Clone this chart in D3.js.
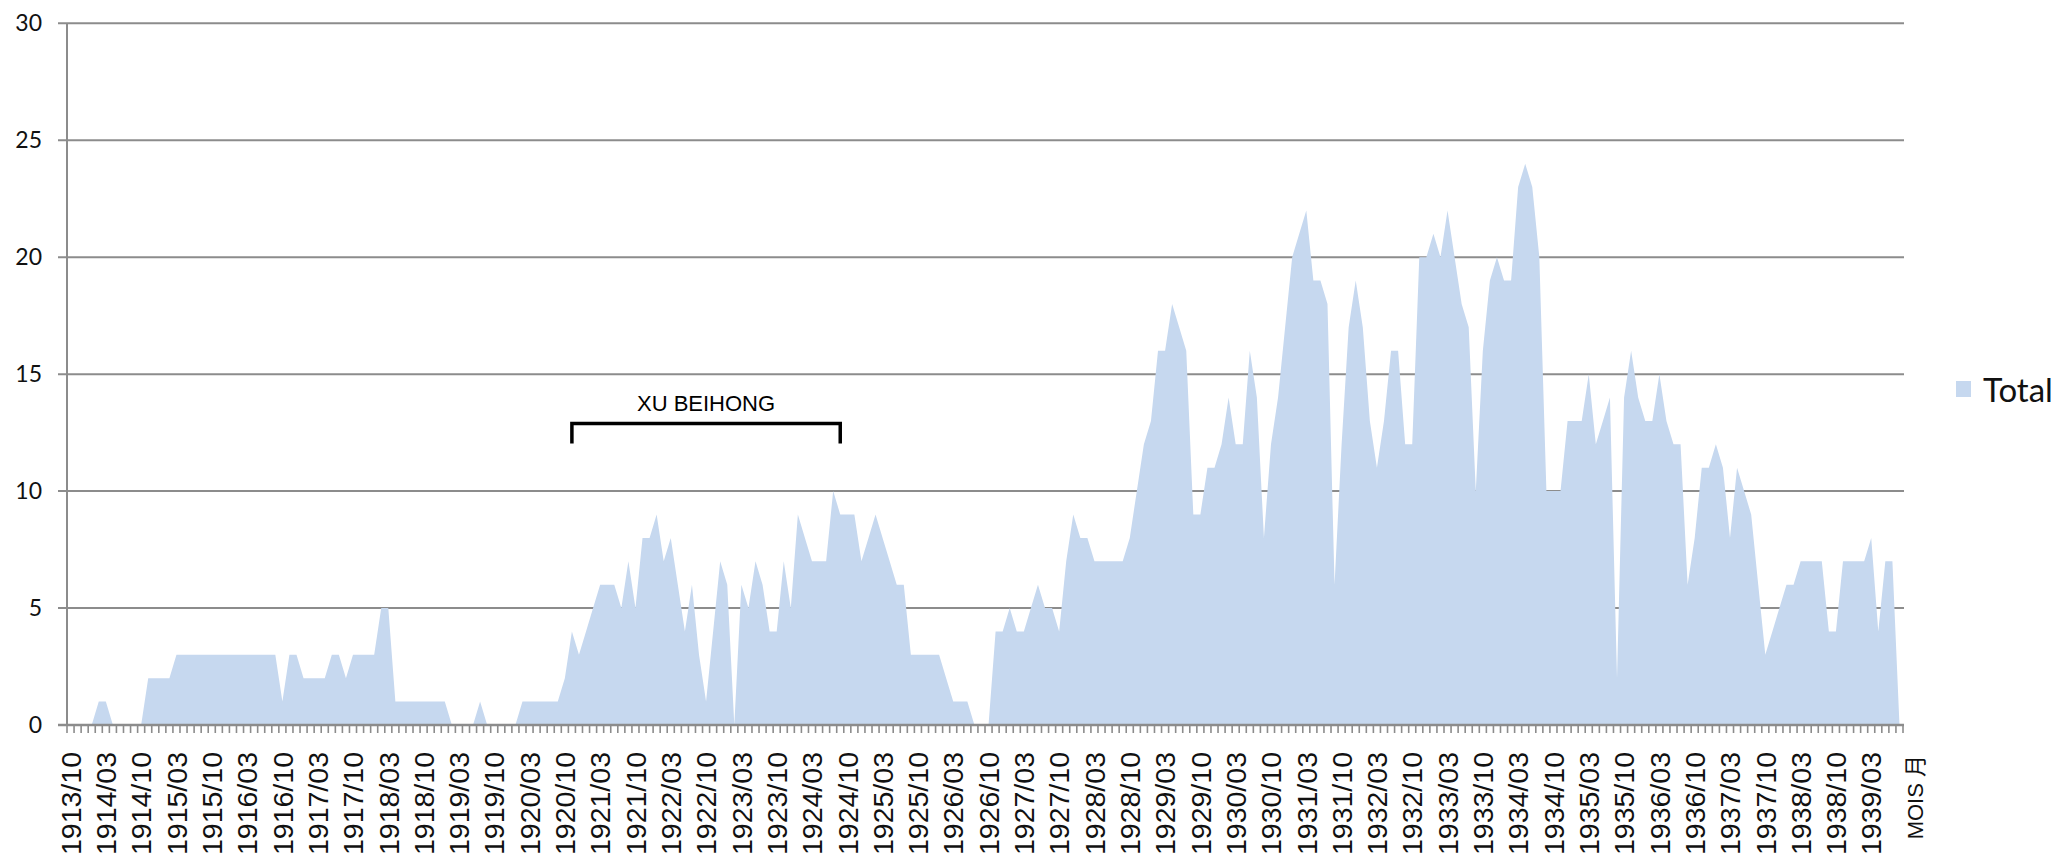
<!DOCTYPE html>
<html>
<head>
<meta charset="utf-8">
<script src="https://cdn.jsdelivr.net/npm/d3@7"></script>
<style>
  html, body { margin: 0; padding: 0; background: #ffffff; }
  svg { display: block; }
</style>
</head>
<body>
<svg id="chart" width="2062" height="858"></svg>
<script>
// ---- DATA ----
// Monthly categories (school months, July & August absent), from 1913/10
const startYear = 1913, startMonth = 10, nCategories = 260;
const categories = [];
{
  let y = startYear, m = startMonth;
  while (categories.length < nCategories) {
    if (m !== 7 && m !== 8) categories.push(y + "/" + String(m).padStart(2, "0"));
    m++; if (m > 12) { m = 1; y++; }
  }
}

const totalValues = [
  0,0,0,0,1,1,0,0,0,0, 0,2,2,2,2,3,3,3,3,3,
  3,3,3,3,3,3,3,3,3,3, 1,3,3,2,2,2,2,3,3,2,
  3,3,3,3,5,5,1,1,1,1, 1,1,1,1,0,0,0,0,1,0,
  0,0,0,0,1,1,1,1,1,1, 2,4,3,4,5,6,6,6,5,7,
  5,8,8,9,7,8,6,4,6,3, 1,4,7,6,0,6,5,7,6,4,
  4,7,5,9,8,7,7,7,10,9, 9,9,7,8,9,8,7,6,6,3,
  3,3,3,3,2,1,1,1,0,0, 0,4,4,5,4,4,5,6,5,5,
  4,7,9,8,8,7,7,7,7,7, 8,10,12,13,16,16,18,17,16,9,
  9,11,11,12,14,12,12,16,14,8, 12,14,17,20,21,22,19,19,18,6,
  12,17,19,17,13,11,13,16,16,12, 12,20,20,21,20,22,20,18,17,10,
  16,19,20,19,19,23,24,23,20,10, 10,10,13,13,13,15,12,13,14,2,
  14,16,14,13,13,15,13,12,12,6, 8,11,11,12,11,8,11,10,9,6,
  3,4,5,6,6,7,7,7,7,4, 4,7,7,7,7,8,4,7,7,0
];

const tickLabels = [
  "1913/10","1914/03","1914/10","1915/03","1915/10","1916/03","1916/10","1917/03",
  "1917/10","1918/03","1918/10","1919/03","1919/10","1920/03","1920/10","1921/03",
  "1921/10","1922/03","1922/10","1923/03","1923/10","1924/03","1924/10","1925/03",
  "1925/10","1926/03","1926/10","1927/03","1927/10","1928/03","1928/10","1929/03",
  "1929/10","1930/03","1930/10","1931/03","1931/10","1932/03","1932/10","1933/03",
  "1933/10","1934/03","1934/10","1935/03","1935/10","1936/03","1936/10","1937/03",
  "1937/10","1938/03","1938/10","1939/03"
];
const yTicks = [0, 5, 10, 15, 20, 25, 30];
const seriesName = "Total";
const axisUnitLabel = "MOIS 月";
const annotationLabel = "XU BEIHONG";
const annotationSpan = ["1920/11", "1924/09"];

// ---- LAYOUT ----
const margin = { left: 67, right: 1903, top: 23.3, bottom: 725 };
const gridColor = "#8c8c8c";
const areaColor = "#c6d8ef";

const svg = d3.select("#chart");
svg.append("rect").attr("width", 2062).attr("height", 858).attr("fill", "#fff");

const x = d3.scaleBand().domain(categories).range([margin.left, margin.right]).padding(0);
const bw = x.bandwidth();
const cx = c => x(c) + bw / 2;
const y = d3.scaleLinear().domain([0, 30]).range([margin.bottom, margin.top]);

const data = categories.map((c, i) => ({ c, v: totalValues[i] }));

// Gridlines (behind the area)
svg.append("g").selectAll("line").data(yTicks.filter(t => t > 0)).join("line")
  .attr("x1", margin.left - 9).attr("x2", margin.right + 1)
  .attr("y1", d => y(d)).attr("y2", d => y(d))
  .attr("stroke", gridColor).attr("stroke-width", 2);

// Area
const area = d3.area()
  .x(d => cx(d.c))
  .y0(y(0))
  .y1(d => y(d.v));
svg.append("path").datum(data).attr("d", area).attr("fill", areaColor);

// Y axis line
svg.append("line")
  .attr("x1", margin.left).attr("x2", margin.left)
  .attr("y1", y(30)).attr("y2", y(0))
  .attr("stroke", gridColor).attr("stroke-width", 2);

// X axis baseline + tick marks between categories
svg.append("line")
  .attr("x1", margin.left - 9).attr("x2", margin.right + 1)
  .attr("y1", y(0)).attr("y2", y(0))
  .attr("stroke", gridColor).attr("stroke-width", 2.5);
const boundaries = d3.range(categories.length + 1);
svg.append("g").selectAll("line").data(boundaries).join("line")
  .attr("x1", i => margin.left + i * bw).attr("x2", i => margin.left + i * bw)
  .attr("y1", y(0)).attr("y2", y(0) + 8)
  .attr("stroke", gridColor).attr("stroke-width", 1.6);

// Y tick labels
svg.append("g").selectAll("text").data(yTicks).join("text")
  .attr("x", 42).attr("y", d => y(d)).attr("dy", "0.35em")
  .attr("text-anchor", "end")
  .attr("font-family", "Lato, 'Open Sans', sans-serif")
  .attr("font-size", 23).attr("fill", "#111")
  .text(d => d);

// X tick labels (rotated)
svg.append("g").selectAll("text").data(tickLabels).join("text")
  .attr("transform", d => `translate(${cx(d)},752) rotate(-90)`)
  .attr("dy", "0.36em")
  .attr("text-anchor", "end")
  .attr("font-family", "'Liberation Sans', Arial, sans-serif")
  .attr("font-size", 28.5).attr("fill", "#111")
  .text(d => d);

// Unit label after the last category
const lastC = categories[categories.length - 1];
svg.append("text")
  .attr("transform", `translate(${cx(lastC) + 2.2 * bw},755) rotate(-90)`)
  .attr("dy", "0.36em")
  .attr("text-anchor", "end")
  .attr("font-family", "'Liberation Sans', 'Noto Sans CJK SC', sans-serif")
  .attr("font-size", 22).attr("fill", "#111")
  .text(axisUnitLabel);

// Annotation bracket
const bx0 = cx(annotationSpan[0]), bx1 = cx(annotationSpan[1]);
const by = 423.5;
svg.append("path")
  .attr("d", `M${bx0},${by + 20}V${by}H${bx1}V${by + 20}`)
  .attr("fill", "none").attr("stroke", "#000").attr("stroke-width", 3.5);
svg.append("text")
  .attr("x", (bx0 + bx1) / 2).attr("y", 410.5)
  .attr("text-anchor", "middle")
  .attr("font-family", "'Liberation Sans', Arial, sans-serif")
  .attr("font-size", 22).attr("fill", "#000")
  .text(annotationLabel);

// Legend
const lg = svg.append("g").attr("transform", "translate(1956,381)");
lg.append("rect").attr("width", 15).attr("height", 16).attr("fill", areaColor);
lg.append("text").attr("x", 27).attr("y", 20.5)
  .attr("font-family", "Lato, 'Open Sans', sans-serif")
  .attr("font-size", 33).attr("fill", "#111")
  .text(seriesName);
</script>
</body>
</html>
